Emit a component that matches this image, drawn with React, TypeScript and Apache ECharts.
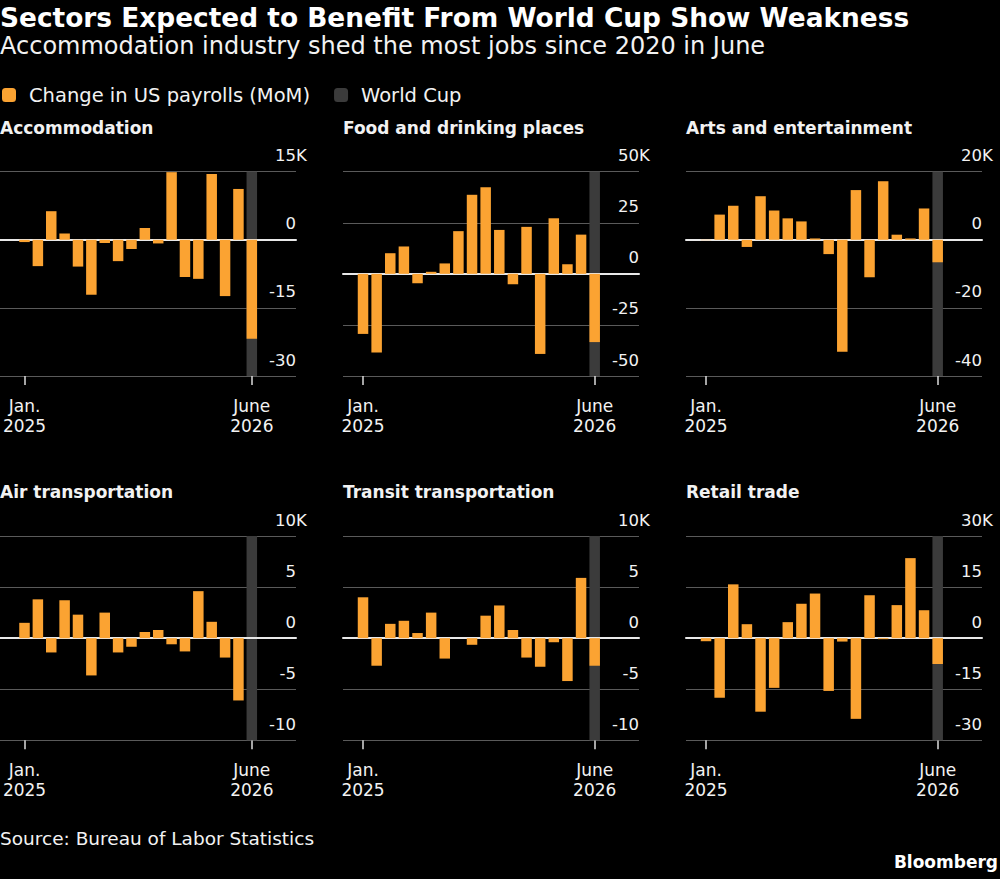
import React, { useEffect, useRef } from 'react';
import * as echarts from 'echarts';

// ---------- data ----------
const months = [
  'Jan. 2025', 'Feb. 2025', 'Mar. 2025', 'Apr. 2025', 'May 2025', 'June 2025',
  'July 2025', 'Aug. 2025', 'Sept. 2025', 'Oct. 2025', 'Nov. 2025', 'Dec. 2025',
  'Jan. 2026', 'Feb. 2026', 'Mar. 2026', 'Apr. 2026', 'May 2026', 'June 2026',
];
const tickMonths = ['Jan. 2025', 'June 2026'];
const worldCupMonths = ['June 2026'];

const panelTitles = [
  'Accommodation', 'Food and drinking places', 'Arts and entertainment',
  'Air transportation', 'Transit transportation', 'Retail trade',
];

// change in payrolls, thousands
const accommodation = [-0.5, -5.8, 6.3, 1.4, -5.9, -12.1, -0.7, -4.7, -2.0, 2.6, -0.8, 14.9, -8.2, -8.6, 14.5, -12.4, 11.2, -21.8];
const foodDrinking = [-29.4, -38.5, 10.1, 13.4, -4.6, 1.0, 5.1, 20.9, 38.7, 42.4, 21.5, -5.1, 23.0, -39.2, 27.2, 4.7, 19.2, -33.4];
const artsEntertainment = [-0.1, 7.4, 10.0, -2.1, 12.8, 8.6, 6.3, 5.4, 0.4, -4.2, -32.9, 14.6, -11.0, 17.2, 1.5, 0.4, 9.2, -6.6];
const airTransport = [1.5, 3.8, -1.4, 3.7, 2.3, -3.65, 2.5, -1.4, -0.85, 0.6, 0.8, -0.6, -1.3, 4.6, 1.6, -1.9, -6.1, 0];
const transitTransport = [4.0, -2.7, 1.4, 1.7, 0.5, 2.5, -2.0, 0, -0.65, 2.2, 3.2, 0.8, -1.9, -2.8, -0.4, -4.2, 5.9, -2.7];
const retailTrade = [-0.9, -17.5, 15.8, 4.1, -21.6, -14.6, 4.7, 10.1, 13.1, -15.5, -1.0, -23.7, 12.6, -0.3, 9.7, 23.5, 8.2, -7.6];

const panelValues = [accommodation, foodDrinking, artsEntertainment, airTransport, transitTransport, retailTrade];
const yMin = [-30, -50, -40, -10, -10, -30];
const yMax = [15, 50, 20, 10, 10, 30];
const yStep = [15, 25, 20, 5, 5, 15];

const seriesName = 'Change in US payrolls (MoM)';
const bandName = 'World Cup';
const titleText = 'Sectors Expected to Benefit From World Cup Show Weakness';
const subtitleText = 'Accommodation industry shed the most jobs since 2020 in June';
const sourceText = 'Source: Bureau of Labor Statistics';
const brandText = 'Bloomberg';
const unitSuffix = 'K';

// ---------- style / layout ----------
const FONT = "'DejaVu Sans', sans-serif";
const ORANGE = '#FBA332';
const BAND = '#3b3b3b';
const GRID = '#5a5a5a';
const TEXT = '#f2f2f2';
const PANEL_LEFT = [0, 343, 686];
const ROW_TOP = [171.7, 536];
const PLOT_W = 296;
const PLOT_H = 204.3;
const BAR_OFFSET = 13.2;
const BAR_REGION_W = 245.3;
const BAR_W = 10.5;
const Y_FONT = 16.5;
const K_W = 10.8; // width the unit suffix hangs past the plot

function buildOption() {
  const grid: any[] = [];
  const xAxis: any[] = [];
  const yAxis: any[] = [];
  const series: any[] = [];
  const graphic: any[] = [];

  const tickIdx = tickMonths.map((m) => months.indexOf(m));
  const labelStyle = { fontSize: Y_FONT, color: TEXT, fontFamily: FONT };

  panelValues.forEach((vals, p) => {
    const col = p % 3;
    const row = Math.floor(p / 3);
    const left = PANEL_LEFT[col];
    const top = ROW_TOP[row];
    const a = 2 * p;
    const b = 2 * p + 1;

    grid.push({ left, top, width: PLOT_W, height: PLOT_H });
    grid.push({ left: left + BAR_OFFSET, top, width: BAR_REGION_W, height: PLOT_H });

    xAxis.push({
      gridIndex: a, type: 'value', min: 0, max: 1, z: 3,
      axisLine: { show: true, onZero: true, lineStyle: { color: '#e8e8e8', width: 2 } },
      axisTick: { show: false }, axisLabel: { show: false }, splitLine: { show: false },
    });
    xAxis.push({
      gridIndex: b, type: 'category', data: months,
      axisLine: { show: false, onZero: false },
      axisTick: {
        show: true, alignWithLabel: true, length: 9,
        interval: (i: number) => tickIdx.includes(i),
        lineStyle: { color: '#dcdcdc', width: 1.5 },
      },
      axisLabel: {
        interval: (i: number) => tickIdx.includes(i),
        formatter: (v: string) => v.replace(' ', '\n'),
        margin: 20, lineHeight: 20, fontSize: 17, color: TEXT, fontFamily: FONT,
      },
      splitLine: { show: false },
    });

    yAxis.push({
      gridIndex: a, type: 'value', position: 'right',
      min: yMin[p], max: yMax[p], interval: yStep[p],
      axisLine: { show: false }, axisTick: { show: false },
      splitLine: { show: true, lineStyle: { color: GRID, width: 1 } },
      axisLabel: {
        inside: true, margin: -K_W, align: 'right', verticalAlign: 'middle',
        padding: [0, 0, 32, 0],
        ...labelStyle,
        formatter: (v: number) => (v === yMax[p] ? `{n|${v}${unitSuffix}}` : `{n|${v}}{s| }`),
        rich: {
          n: { ...labelStyle },
          s: { ...labelStyle, width: K_W },
        },
      },
    });
    yAxis.push({
      gridIndex: b, type: 'value', min: yMin[p], max: yMax[p], interval: yStep[p], show: false,
    });

    series.push({
      name: bandName, type: 'bar', xAxisIndex: b, yAxisIndex: b, z: 1,
      barWidth: BAR_W, barGap: '-100%', silent: true,
      itemStyle: { color: BAND },
      data: months.map((m) => (worldCupMonths.includes(m) ? yMax[p] : null)),
    });
    series.push({
      name: bandName, type: 'bar', xAxisIndex: b, yAxisIndex: b, z: 1,
      barWidth: BAR_W, barGap: '-100%', silent: true,
      itemStyle: { color: BAND },
      data: months.map((m) => (worldCupMonths.includes(m) ? yMin[p] : null)),
    });
    series.push({
      name: seriesName, type: 'bar', xAxisIndex: b, yAxisIndex: b, z: 4,
      barWidth: BAR_W, barGap: '-100%',
      itemStyle: { color: ORANGE },
      data: vals,
    });

    graphic.push({
      type: 'text', x: left, y: top - 43.7,
      style: { text: panelTitles[p], fill: TEXT, font: `bold 17px ${FONT}`, align: 'left', verticalAlign: 'middle' },
    });
  });

  graphic.push({
    type: 'text', x: 0, y: 17.5,
    style: { text: titleText, fill: '#ffffff', font: `bold 26.4px ${FONT}`, align: 'left', verticalAlign: 'middle' },
  });
  graphic.push({
    type: 'text', x: 0, y: 45.5,
    style: { text: subtitleText, fill: TEXT, font: `24px ${FONT}`, align: 'left', verticalAlign: 'middle' },
  });
  graphic.push({
    type: 'text', x: 0, y: 838.5,
    style: { text: sourceText, fill: TEXT, font: `18.5px ${FONT}`, align: 'left', verticalAlign: 'middle' },
  });
  graphic.push({
    type: 'text', x: 998, y: 862,
    style: { text: brandText, fill: '#ffffff', font: `bold 17px ${FONT}`, align: 'right', verticalAlign: 'middle' },
  });

  return {
    animation: false,
    backgroundColor: '#000000',
    legend: {
      data: [seriesName, bandName],
      left: 2, top: 85, padding: 0, itemWidth: 14, itemHeight: 14, itemGap: 24,
      icon: 'roundRect', selectedMode: false,
      textStyle: { color: TEXT, fontSize: 19.5, fontFamily: FONT, padding: [0, 0, 0, 8] },
    },
    grid, xAxis, yAxis, series, graphic,
  };
}

export default function App() {
  const ref = useRef<HTMLDivElement>(null);
  useEffect(() => {
    if (!ref.current) return;
    const chart = echarts.init(ref.current, undefined, { renderer: 'svg' });
    chart.setOption(buildOption() as any);
    return () => chart.dispose();
  }, []);
  return (
    <div
      ref={ref}
      style={{ position: 'absolute', left: 0, top: 0, width: 1000, height: 879, background: '#000' }}
    />
  );
}
